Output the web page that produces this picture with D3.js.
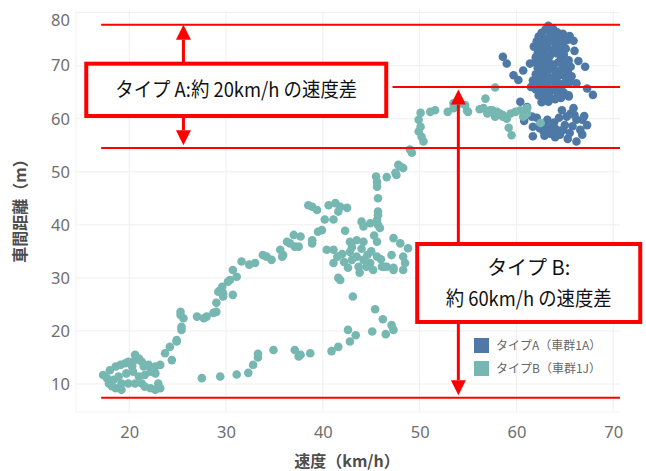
<!DOCTYPE html>
<html><head><meta charset="utf-8">
<script src="https://cdn.jsdelivr.net/npm/d3@7"></script>
<style>body{margin:0;background:#fff;} svg{display:block;}</style>
</head><body><svg id="c" width="646" height="471"></svg>
<script>
const xTicks = [20, 30, 40, 50, 60, 70];
const yTicks = [10, 20, 30, 40, 50, 60, 70, 80];
const seriesNames = ["タイプA（車群1A）", "タイプB（車群1J）"];
const xTitle = "速度（km/h）";
const yTitle = "車間距離（m）";

// タイプA (車群1A): [速度, 車間距離]
const typeA = [
 [63.3,77.5],[63.0,76.8],[63.8,76.9],[62.6,76.2],[64.2,76.3],[64.8,76.0],[65.5,75.6],[62.3,75.5],[63.5,75.8],[62.9,75.1],
 [63.9,75.2],[64.6,75.1],[65.2,74.8],[62.1,74.6],[62.6,74.2],[63.3,74.4],[64.0,74.3],[64.8,74.1],[61.8,73.6],[62.4,73.2],
 [63.1,73.5],[63.7,73.0],[64.4,73.3],[65.1,73.2],[62.2,72.4],[62.9,72.2],[63.5,72.0],[64.2,72.3],[64.9,72.1],[62.0,71.6],
 [62.6,71.4],[63.3,71.1],[64.6,71.2],[65.4,71.0],[61.9,70.6],[62.4,70.3],[63.0,70.5],[63.8,70.2],[64.3,70.6],[65.0,70.3],
 [65.6,69.8],[62.2,69.5],[62.8,69.2],[63.5,69.4],[64.1,69.0],[64.7,69.3],[65.3,68.9],[62.0,68.4],[62.6,68.1],[63.2,68.3],
 [63.9,67.9],[64.5,68.2],[65.1,67.8],[65.7,68.0],[61.7,67.2],[62.3,67.0],[63.0,66.9],[63.6,67.2],[64.3,66.8],[64.9,66.6],
 [65.5,66.9],[62.6,66.2],[63.3,65.9],[64.0,66.0],[64.6,65.7],[61.5,66.0],[62.0,65.5],[62.5,65.2],[63.0,64.9],[63.6,65.3],
 [64.2,65.0],[64.9,64.9],[65.4,64.4],[62.3,64.4],[62.8,63.9],[63.4,64.1],[64.0,63.7],[64.6,63.9],[62.6,63.1],[63.3,63.2],
 [66.4,70.9],[67.1,69.8],[66.2,66.7],[67.3,65.7],[67.9,64.5],[65.4,64.2],[58.6,71.7],[59.0,70.4],[59.7,68.2],[60.2,67.3],
 [60.7,69.1],[61.4,70.4],[60.4,63.2],[61.1,62.2],[61.6,60.4],[62.1,60.2],[61.7,58.5],[61.7,56.7],[62.1,67.0],[66.0,72.8],
 [65.9,74.7],[64.7,61.6],[65.9,62.0],[65.2,60.4],[66.2,59.8],[66.8,59.8],[67.3,58.8],[66.6,57.9],[66.8,57.0],[66.2,55.7],
 [64.5,57.0],[63.8,58.5],[63.2,58.5],[63.2,59.8],[64.8,57.9],[65.5,57.3],[62.8,57.6],[63.5,57.2],[64.1,58.0],[65.0,58.8],
 [65.8,58.6],[62.5,59.0],[63.9,59.3],[64.4,60.2],[65.6,61.0],[66.0,60.7],[67.0,60.5],[62.9,56.8],[64.0,56.5],[65.3,56.2],
 [62.4,58.2],[60.8,59.6]
];

// タイプB (車群1J): [速度, 車間距離]
const typeB = [
 [17.3,11.7],[18.0,12.6],[18.6,13.3],[19.1,13.6],[19.6,13.9],[19.9,14.2],[20.6,15.5],[21.0,14.8],[21.3,14.2],[22.0,13.6],
 [22.7,13.3],[23.2,13.6],[23.7,15.8],[24.2,17.0],[24.4,14.5],[24.9,18.0],[17.9,10.1],[18.4,10.8],[18.9,11.4],[19.2,10.1],
 [18.6,9.2],[19.2,8.9],[19.9,10.1],[19.7,12.0],[20.4,12.3],[21.0,11.4],[20.6,10.1],[21.3,10.1],[21.6,9.5],[22.2,9.2],
 [22.7,8.9],[23.0,10.1],[23.2,9.2],[21.6,11.7],[22.2,12.3],[22.7,12.0],[20.3,13.3],[17.7,11.1],[18.2,9.6],[21.5,13.3],
 [20.6,14.5],[27.5,11.1],[29.4,11.4],[31.1,11.8],
 [24.9,18.3],[25.4,20.2],[25.4,20.8],[25.3,23.0],[25.6,22.4],[25.3,23.6],[27.0,22.7],[27.7,22.4],[28.0,22.7],[28.7,23.4],
 [29.0,23.6],[29.0,25.3],[29.2,27.4],[29.6,28.3],[29.4,27.7],[29.7,26.5],[30.7,26.8],[30.4,29.6],[31.1,30.2],[30.7,31.5],
 [31.6,33.1],[33.0,32.8],[33.8,34.3],[34.7,33.4],[35.6,35.3],[35.9,34.3],[36.6,36.5],[37.0,38.1],[37.5,35.9],[36.3,36.8],
 [37.1,35.9],[37.7,37.8],[38.5,43.7],[38.9,43.4],[39.4,42.8],[40.6,43.7],[41.3,44.1],[41.8,43.4],[42.5,43.2],[41.6,42.5],
 [40.2,41.0],[41.1,41.0],[42.3,38.9],[39.9,39.0],[39.5,38.7],[38.9,37.1],[38.9,36.5],[35.8,34.0],[29.7,27.1],[30.2,29.3],
 [32.4,32.5],[34.2,34.0],
 [40.4,35.3],[41.1,35.3],[41.1,32.8],[42.8,36.8],[43.5,37.1],[42.8,34.9],[43.5,34.0],[44.2,33.4],[44.9,32.8],[45.6,34.0],
 [46.6,32.1],[47.3,31.5],[48.3,31.5],[48.5,32.8],[48.3,34.0],[48.8,35.6],[48.0,36.5],[47.3,37.5],[47.1,34.3],[45.6,36.8],
 [44.2,36.8],[43.0,33.4],[42.6,31.9],[43.7,32.1],[44.5,32.1],[46.1,32.1],[41.6,30.0],[41.8,29.6],[44.0,40.6],[44.2,39.7],
 [44.9,40.3],[45.9,39.4],[45.7,40.0],[45.6,40.9],[45.7,42.5],[45.7,41.8],[45.7,45.0],[45.6,47.2],[45.6,48.1],[45.5,49.1],
 [46.6,49.0],[47.6,49.4],[47.8,51.3],[48.3,50.7],[49.0,54.2],[49.2,53.6],[47.3,31.9],[46.4,32.1],[44.0,35.5],[45.0,35.0],
 [43.0,35.8],[42.0,34.5],[44.6,34.3],[46.0,33.5],[43.8,31.0],[45.2,31.5],[42.2,33.0],[41.5,34.0],[45.3,38.0],
 [43.1,26.5],[45.4,24.1],[46.2,22.2],[47.1,21.1],[47.3,20.2],[46.5,19.4],[45.1,19.9],[43.4,19.2],[42.6,20.2],[42.8,18.0],
 [41.6,17.0],[40.9,16.2],[38.7,15.8],[37.7,15.5],[37.1,16.4],[34.9,16.4],[33.3,15.7],[32.8,13.6],[32.3,12.1],[33.3,15.0],
 [37.5,15.2],
 [50.1,61.1],[49.9,59.8],[50.1,58.5],[49.9,57.6],[50.2,56.6],[50.4,55.7],[51.1,61.3],[51.6,61.6],[52.9,61.3],[53.5,62.0],
 [53.5,62.9],[54.2,62.9],[54.7,62.6],[55.0,61.3],[56.8,63.8],[57.8,65.9],[48.0,51.0],[47.5,49.8],
 [56.6,62.0],[57.3,61.6],[57.5,61.6],[58.0,61.3],[58.3,61.0],[58.6,60.7],[59.0,60.0],[57.8,60.4],[59.4,61.0],[59.9,61.3],
 [60.4,61.6],[60.7,60.4],[59.2,58.3],[59.5,56.9],[61.1,62.0],[62.5,59.2],[54.9,61.5],[58.0,60.7],[58.6,60.4],[61.1,61.0],
 [57.0,61.0],[56.2,61.8]
];

// annotation values (data units)
const refLines = [ {y:77.7, x1:17.1, x2:70.7}, {y:66.0, x1:47.2, x2:70.7}, {y:54.5, x1:17.1, x2:70.7}, {y:7.4, x1:17.1, x2:70.7} ];
const boxA = {x1:15.56, x2:46.55, y1:70.38, y2:60.52, lines:["タイプ A:約 20km/h の速度差"], widths:[242]};
const boxB = {x1:49.75, x2:72.79, y1:36.39, y2:21.69, lines:["タイプ B:", "約 60km/h の速度差"], widths:[null, 166]};
const arrows = [
  {x:25.6, from:70.38, to:77.7},
  {x:25.6, from:60.52, to:55.0},
  {x:54.0, from:36.39, to:65.5},
  {x:54.0, from:21.69, to:7.9}
];

const colors = ["#4e79a7", "#76b7b2"];
const svg = d3.select("#c");
const plot = {left:76, right:620, top:10, bottom:412};

const x = d3.scaleLinear().domain([14.5, 70.7]).range([plot.left, plot.right]);
const y = d3.scaleLinear().domain([4.72, 80.5]).range([plot.bottom, plot.top]);

// grid
const grid = svg.append("g");
grid.selectAll(".vx").data(xTicks).join("line")
  .attr("x1", d=>x(d)).attr("x2", d=>x(d)).attr("y1", plot.top).attr("y2", plot.bottom)
  .attr("stroke", "#efefef").attr("stroke-width", 1);
grid.selectAll(".hy").data(yTicks).join("line")
  .attr("x1", plot.left).attr("x2", plot.right).attr("y1", d=>y(d)).attr("y2", d=>y(d))
  .attr("stroke", "#efefef").attr("stroke-width", 1);
grid.append("line").attr("x1", plot.left).attr("x2", plot.left).attr("y1", plot.top).attr("y2", plot.bottom).attr("stroke","#f2f2f2");
grid.append("line").attr("x1", plot.left).attr("x2", plot.right).attr("y1", plot.bottom).attr("y2", plot.bottom).attr("stroke","#f2f2f2");

// axes
const xAxis = svg.append("g").attr("transform", `translate(0,${plot.bottom})`)
  .call(d3.axisBottom(x).tickValues(xTicks).tickSize(0).tickPadding(14));
const yAxis = svg.append("g").attr("transform", `translate(${plot.left},0)`)
  .call(d3.axisLeft(y).tickValues(yTicks).tickSize(0).tickPadding(6));
[xAxis, yAxis].forEach(a => {
  a.select(".domain").remove();
  a.selectAll("text").attr("fill", "#6f6f6f").style("font-family", "'Noto Sans', 'Open Sans', sans-serif").style("font-size", "16.5px");
});
yAxis.selectAll(".tick").filter(d => y(d) < 18).select("text").attr("dy", "0.75em");

// axis titles
svg.append("text").attr("x", 347).attr("y", 467).attr("text-anchor", "middle")
  .attr("fill", "#4d4d4d").style("font-family", "'Noto Sans CJK JP', sans-serif").style("font-weight", "700").style("font-size", "16px")
  .text(xTitle);
svg.append("text").attr("transform", "translate(26,207) rotate(-90)").attr("text-anchor", "middle")
  .attr("fill", "#4d4d4d").style("font-family", "'Noto Sans CJK JP', sans-serif").style("font-weight", "700").style("font-size", "16px")
  .text(yTitle);

// points
const pts = svg.append("g");
[typeA, typeB].forEach((series, i) => {
  pts.append("g").selectAll("circle").data(series).join("circle")
    .attr("cx", d => x(d[0])).attr("cy", d => y(d[1])).attr("r", 4.3)
    .attr("fill", colors[i]);
});

// legend
const leg = svg.append("g");
seriesNames.forEach((name, i) => {
  leg.append("rect").attr("x", 474).attr("y", 338 + i*23).attr("width", 15).attr("height", 15).attr("fill", colors[i]);
  leg.append("text").attr("x", 496).attr("y", 346 + i*23).attr("dy", "0.35em")
    .attr("fill", "#666").style("font-family", "'Noto Sans CJK JP', sans-serif").style("font-size", "12px").text(name);
});

// annotations
const ann = svg.append("g");
const red = "#ff0000";
refLines.forEach(r => {
  ann.append("line").attr("x1", x(r.x1)).attr("x2", x(r.x2)).attr("y1", y(r.y)).attr("y2", y(r.y))
    .attr("stroke", red).attr("stroke-width", 2);
});
arrows.forEach(a => {
  const x0 = x(a.x), yf = y(a.from), yt = y(a.to);
  const dir = yt < yf ? 1 : -1;
  const base = yt + dir*15;
  ann.append("line").attr("x1", x0).attr("x2", x0).attr("y1", yf).attr("y2", base)
    .attr("stroke", red).attr("stroke-width", 3);
  ann.append("path").attr("d", `M${x0},${yt} L${x0-7.5},${base} L${x0+7.5},${base} Z`).attr("fill", red);
});
[boxA, boxB].forEach(b => {
  const bx = x(b.x1), by = y(b.y1), bw = x(b.x2) - x(b.x1), bh = y(b.y2) - y(b.y1);
  ann.append("rect").attr("x", bx).attr("y", by).attr("width", bw).attr("height", bh)
    .attr("fill", "#fff").attr("stroke", red).attr("stroke-width", 4);
  const n = b.lines.length, lh = 31;
  b.lines.forEach((t, k) => {
    const tx = ann.append("text").attr("x", bx + bw/2).attr("y", by + bh/2 + (k - (n-1)/2)*lh).attr("dy", "0.36em")
      .attr("text-anchor", "middle").attr("fill", "#111")
      .style("font-family", "'Noto Sans CJK JP', sans-serif").style("font-size", "20px").text(t);
    if (b.widths[k]) tx.attr("textLength", b.widths[k]).attr("lengthAdjust", "spacingAndGlyphs");
  });
});
</script></body></html>
